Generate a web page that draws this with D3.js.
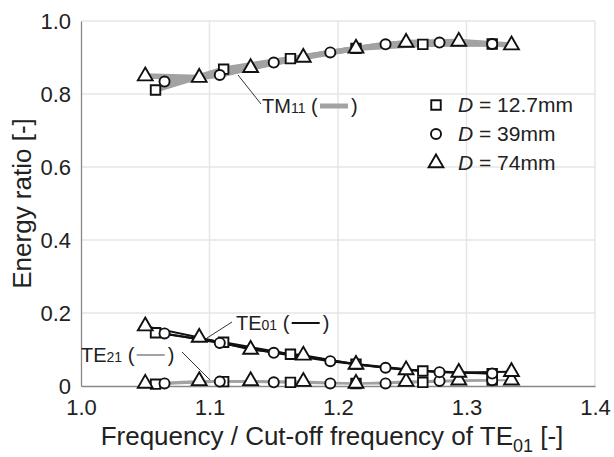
<!DOCTYPE html>
<html lang="en">
<head>
<meta charset="UTF-8">
<title>Energy ratio</title>
<script src="https://d3js.org/d3.v7.min.js"></script>
<style>
body { margin: 0; background: #fff; }
text { font-family: "Liberation Sans", Arial, sans-serif; fill: #222; }
</style>
</head>
<body>
<script>
// x positions (normalised frequency) for each pipe diameter
var xSq = [1.058, 1.111, 1.163, 1.214, 1.266, 1.320];
var xCi = [1.065, 1.108, 1.150, 1.194, 1.237, 1.279, 1.320];
var xTr = [1.050, 1.092, 1.132, 1.173, 1.214, 1.253, 1.294, 1.335];

// TM11 energy ratio
var tmSq = [0.811, 0.868, 0.897, 0.925, 0.936, 0.937];
var tmCi = [0.834, 0.852, 0.886, 0.914, 0.936, 0.941, 0.937];
var tmTr = [0.849, 0.845, 0.872, 0.900, 0.925, 0.941, 0.944, 0.934];

// TE01 energy ratio
var te01Sq = [0.146, 0.120, 0.087, 0.060, 0.041, 0.034];
var te01Ci = [0.144, 0.118, 0.091, 0.068, 0.050, 0.038, 0.034];
var te01Tr = [0.164, 0.133, 0.100, 0.084, 0.059, 0.044, 0.037, 0.039];

// TE21 energy ratio
var te21Sq = [0.005, 0.012, 0.010, 0.007, 0.010, 0.016];
var te21Ci = [0.007, 0.012, 0.010, 0.007, 0.007, 0.014, 0.016];
var te21Tr = [0.007, 0.014, 0.014, 0.012, 0.007, 0.012, 0.016, 0.016];

var xTicks = [1.0, 1.1, 1.2, 1.3, 1.4];
var yTicks = [0, 0.2, 0.4, 0.6, 0.8, 1.0];
var legendLabels = ["12.7mm", "39mm", "74mm"];

var W = 614, H = 457;
var m = {left: 81, right: 19, top: 21, bottom: 71};

var svg = d3.select("body").append("svg").attr("width", W).attr("height", H);

var x = d3.scaleLinear().domain([1.0, 1.4]).range([m.left, W - m.right]);
var y = d3.scaleLinear().domain([0, 1.0]).range([H - m.bottom, m.top]);

// grid
svg.append("g").selectAll("line").data(xTicks.slice(1)).enter().append("line")
  .attr("x1", d => x(d)).attr("x2", d => x(d))
  .attr("y1", y(0)).attr("y2", y(1))
  .attr("stroke", "#e6e6e6").attr("stroke-width", 1.5);
svg.append("g").selectAll("line").data(yTicks.slice(1)).enter().append("line")
  .attr("x1", x(1.0)).attr("x2", x(1.4))
  .attr("y1", d => y(d)).attr("y2", d => y(d))
  .attr("stroke", "#e6e6e6").attr("stroke-width", 1.5);

// axes
var xAxis = d3.axisBottom(x).tickValues(xTicks).tickFormat(d3.format(".1f")).tickSize(0).tickPadding(13);
var yAxis = d3.axisLeft(y).tickValues(yTicks).tickFormat(d => d === 0 ? "0" : d3.format(".1f")(d)).tickSize(0).tickPadding(10);

var gx = svg.append("g").attr("transform", "translate(0," + y(0) + ")").call(xAxis);
var gy = svg.append("g").attr("transform", "translate(" + x(1.0) + ",0)").call(yAxis);
[gx, gy].forEach(function(g) {
  g.select(".domain").attr("stroke", "#888").attr("stroke-width", 1.3);
  g.selectAll("text").attr("font-size", 22).attr("fill", "#222")
    .style("font-family", '"Liberation Sans", Arial, sans-serif');
});
gy.selectAll("text").attr("dy", "0.36em");

// series
function pts(xs, ys) { return xs.map((v, i) => [v, ys[i]]); }
var shapes = [
  {xs: xSq, tm: tmSq, e1: te01Sq, e2: te21Sq, sym: d3.symbolSquare, size: 90},
  {xs: xCi, tm: tmCi, e1: te01Ci, e2: te21Ci, sym: d3.symbolCircle, size: 80},
  {xs: xTr, tm: tmTr, e1: te01Tr, e2: te21Tr, sym: d3.symbolTriangle, size: 95}
];

var line = d3.line().x(d => x(d[0])).y(d => y(d[1]));
var modes = [
  {key: "tm", color: "#a2a2a2", width: 5.5},
  {key: "e2", color: "#a2a2a2", width: 2},
  {key: "e1", color: "#111", width: 2}
];
modes.forEach(function(md) {
  shapes.forEach(function(s) {
    svg.append("path").datum(pts(s.xs, s[md.key])).attr("d", line)
      .attr("fill", "none").attr("stroke", md.color).attr("stroke-width", md.width);
  });
});

shapes.forEach(function(s) {
  ["e2", "e1", "tm"].forEach(function(k) {
    svg.append("g").selectAll("path").data(pts(s.xs, s[k])).enter().append("path")
      .attr("d", d3.symbol().type(s.sym).size(s.size))
      .attr("transform", d => "translate(" + x(d[0]) + "," + y(d[1]) + ")")
      .attr("fill", "#fff").attr("stroke", "#111").attr("stroke-width", 1.9);
  });
});

// annotations
function label(tx, ty, main, sub, lx1, ly1, lx2, ly2, sampleColor, sampleW) {
  svg.append("line").attr("x1", lx1).attr("y1", ly1).attr("x2", lx2).attr("y2", ly2)
    .attr("stroke", "#333").attr("stroke-width", 1);
  var t = svg.append("text").attr("x", tx).attr("y", ty).attr("font-size", 20);
  t.append("tspan").text(main);
  t.append("tspan").attr("font-size", 14).text(sub);
  t.append("tspan").text(" (");
  var bb = t.node().getBBox();
  var sx = bb.x + bb.width + 2;
  svg.append("line").attr("x1", sx).attr("x2", sx + 28).attr("y1", ty - 7).attr("y2", ty - 7)
    .attr("stroke", sampleColor).attr("stroke-width", sampleW);
  svg.append("text").attr("x", sx + 31).attr("y", ty).attr("font-size", 20).text(")");
}
label(262, 113, "TM", "11", 238, 75, 261, 104, "#a2a2a2", 5);
label(236, 330, "TE", "01", 207, 338, 232, 322, "#111", 2);
label(81, 362, "TE", "21", 182, 352, 210, 380, "#a2a2a2", 2);

// legend
var leg = svg.append("g");
shapes.forEach(function(s, i) {
  var ly = 105 + i * 29;
  leg.append("path").attr("d", d3.symbol().type(s.sym).size(s.size))
    .attr("transform", "translate(436," + ly + ")")
    .attr("fill", "#fff").attr("stroke", "#111").attr("stroke-width", 1.9);
  var t = leg.append("text").attr("x", 458).attr("y", ly + 7).attr("font-size", 21);
  t.append("tspan").attr("font-style", "italic").text("D");
  t.append("tspan").text(" = " + legendLabels[i]);
});

// axis titles
var xt = svg.append("text").attr("x", 332).attr("y", 445)
  .attr("text-anchor", "middle").attr("font-size", 26);
xt.append("tspan").text("Frequency / Cut-off frequency of TE");
xt.append("tspan").attr("font-size", 18).attr("dy", 7).text("01");
xt.append("tspan").attr("dy", -7).text(" [-]");

svg.append("text").attr("transform", "translate(31," + ((y(0) + y(1)) / 2) + ") rotate(-90)")
  .attr("text-anchor", "middle").attr("font-size", 26).text("Energy ratio [-]");
</script>
</body>
</html>
